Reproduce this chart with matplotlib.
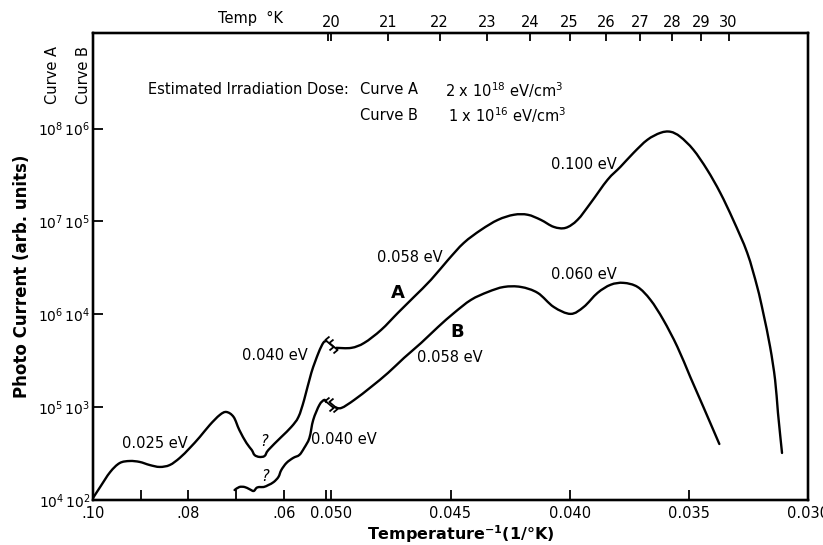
import numpy as np
import matplotlib
matplotlib.use('Agg')
import matplotlib.pyplot as plt
from matplotlib.path import Path
from matplotlib.patches import PathPatch
from matplotlib.ticker import FixedLocator, NullLocator

plt.rcParams['font.family'] = 'DejaVu Sans'
plt.rcParams['mathtext.default'] = 'regular'
plt.rcParams['axes.linewidth'] = 1.6

# Curve A (2 x 10^18 eV/cm^3), photo current in its own units, split at the break (1/T = 0.050)
a_low_x = [0.1000, 0.0985, 0.0964, 0.0944, 0.0923, 0.0902, 0.0881, 0.0860, 0.0839, 0.0818,
           0.0797, 0.0776, 0.0755, 0.0734, 0.0720, 0.0705, 0.0693, 0.0678, 0.0667, 0.0661,
           0.0651, 0.0640, 0.0632, 0.0605, 0.0584, 0.0569, 0.0557, 0.0542, 0.0527, 0.0517, 0.0511]
a_low_y = [1.05e4, 1.38e4, 2.0e4, 2.5e4, 2.63e4, 2.57e4, 2.38e4, 2.27e4, 2.38e4, 2.84e4,
           3.63e4, 4.77e4, 6.43e4, 8.24e4, 8.87e4, 7.84e4, 5.67e4, 4.11e4, 3.46e4, 3.05e4,
           2.91e4, 2.98e4, 3.46e4, 4.77e4, 6.12e4, 7.84e4, 1.20e5, 2.34e5, 3.84e5, 4.92e5, 5.16e5]
a_high_x = [0.04979, 0.04916, 0.04862, 0.04791, 0.04720, 0.04653, 0.04582, 0.04510, 0.04444,
            0.04372, 0.04301, 0.04234, 0.04176, 0.04121, 0.04067, 0.04017, 0.03967, 0.03912,
            0.03841, 0.03787, 0.03732, 0.03674, 0.03619, 0.03577, 0.03536, 0.03481, 0.03423,
            0.03368, 0.03314, 0.03255, 0.03213, 0.03188, 0.03159, 0.03138, 0.03126, 0.03109]
a_high_y = [4.35e5, 4.35e5, 4.92e5, 6.79e5, 1.04e6, 1.54e6, 2.35e6, 3.86e6, 5.88e6,
            8.11e6, 1.04e7, 1.18e7, 1.18e7, 1.04e7, 8.74e6, 8.53e6, 1.04e7, 1.58e7,
            2.81e7, 3.87e7, 5.48e7, 7.57e7, 9.0e7, 9.24e7, 8.17e7, 5.92e7, 3.6e7,
            2.03e7, 1.04e7, 4.59e6, 1.97e6, 1.04e6, 4.46e5, 1.96e5, 8.67e4, 3.21e4]

# Curve B (1 x 10^16 eV/cm^3)
b_low_x = [0.0703, 0.0693, 0.0682, 0.0672, 0.0663, 0.0657, 0.0651, 0.0642, 0.0632, 0.0621,
           0.0611, 0.0605, 0.0594, 0.0580, 0.0567, 0.0557, 0.0546, 0.0538, 0.0525, 0.0515, 0.0511]
b_low_y = [128, 138, 138, 131, 125, 135, 138, 138, 145, 156,
           177, 210, 251, 284, 306, 363, 466, 728, 1057, 1196, 1137]
b_high_x = [0.04987, 0.04958, 0.04904, 0.04833, 0.04762, 0.04695, 0.04623, 0.04552, 0.04485,
            0.04414, 0.04343, 0.04276, 0.04205, 0.04134, 0.04067, 0.03996, 0.03941, 0.03883,
            0.03828, 0.03774, 0.03715, 0.03661, 0.03607, 0.03548, 0.03494, 0.03439, 0.03372]
b_high_y = [1004, 980, 1196, 1652, 2340, 3392, 4920, 7313, 1.035e4,
            1.43e4, 1.74e4, 1.97e4, 1.97e4, 1.70e4, 1.20e4, 1.01e4, 1.20e4, 1.70e4,
            2.08e4, 2.18e4, 1.97e4, 1.43e4, 8710, 4456, 2115, 1005, 401]

bottom_ticks = [0.10, 0.09, 0.08, 0.07, 0.06, 0.0511, 0.050, 0.045, 0.040, 0.035, 0.030]
bottom_labels = ['.10', '', '.08', '', '.06', '', '0.050', '0.045', '0.040', '0.035', '0.030']
temps = [20, 21, 22, 23, 24, 25, 26, 27, 28, 29, 30]
decades_b = [2, 3, 4, 5, 6]


# 1/T axis: 0.10-0.05 squeezed 5x, 0.05-0.03 at full scale
def fwd(x):
    x = np.asarray(x, dtype=float)
    return np.where(x > 0.05, 0.05 + (x - 0.05) / 5.0, x)


def inv(u):
    u = np.asarray(u, dtype=float)
    return np.where(u > 0.05, 0.05 + (u - 0.05) * 5.0, u)


def smooth_curve(ax, xs, ys, **kw):
    # Catmull-Rom through the points, worked out in scale space (u, log y)
    u = fwd(xs)
    v = np.log10(ys)
    p = np.column_stack([u, v])
    ext = np.vstack([p[0], p, p[-1]])
    verts = [p[0]]
    codes = [Path.MOVETO]
    for i in range(len(p) - 1):
        c1 = ext[i + 1] + (ext[i + 2] - ext[i]) / 6.0
        c2 = ext[i + 2] - (ext[i + 3] - ext[i + 1]) / 6.0
        verts += [c1, c2, p[i + 1]]
        codes += [Path.CURVE4] * 3
    verts = np.array(verts)
    data = np.column_stack([inv(verts[:, 0]), 10.0 ** verts[:, 1]])
    ax.add_patch(PathPatch(Path(data, codes), fill=False, **kw))


fig = plt.figure(figsize=(8.23, 5.45), dpi=100)
ax = fig.add_axes([93 / 823, 1 - 500 / 545, 715 / 823, 467 / 545])
ax.set_xscale('function', functions=(fwd, inv))
ax.set_yscale('log')
ax.set_xlim(0.10, 0.030)
ax.set_ylim(1e2, 1.07e7)

axA = ax.twinx()
axA.set_yscale('log')
axA.set_ylim(1e4, 1.07e9)
axA.tick_params(axis='y', which='both', right=False, labelright=False)

style = dict(edgecolor='black', lw=1.7, capstyle='round', joinstyle='round')
smooth_curve(axA, a_low_x, a_low_y, **style)
smooth_curve(axA, a_high_x, a_high_y, **style)
smooth_curve(ax, b_low_x, b_low_y, **style)
smooth_curve(ax, b_high_x, b_high_y, **style)

# little squiggles marking the break on each curve
squig = Path([(0.0, -0.5), (0.3, -0.25), (0.0, 0.0), (-0.3, 0.25), (0.0, 0.5)])
axA.plot([0.0504, 0.04995], [a_low_y[-1] * 0.95, a_high_y[0] * 1.05], ls='none',
         marker=squig, ms=10, mew=1.3, mfc='none', mec='black')
ax.plot([0.0504, 0.04995], [b_low_y[-1] * 0.95, b_high_y[0] * 1.05], ls='none',
        marker=squig, ms=10, mew=1.3, mfc='none', mec='black')

# bottom axis
ax.xaxis.set_major_locator(FixedLocator(bottom_ticks))
ax.set_xticklabels(bottom_labels)
ax.xaxis.set_minor_locator(NullLocator())
ax.tick_params(axis='x', direction='in', length=7, width=1.3, pad=4, labelsize=10.5, top=False)

# left axis, two label columns (curve A / curve B)
ax.yaxis.set_major_locator(FixedLocator([10.0 ** d for d in decades_b]))
ax.yaxis.set_minor_locator(NullLocator())
ax.set_yticklabels([r'$10^{%d}\,10^{%d}$' % (d + 2, d) for d in decades_b])
ax.tick_params(axis='y', direction='in', length=7, width=1.3, pad=2, labelsize=10)

# top axis: temperature in K
axT = ax.twiny()
axT.set_xscale('function', functions=(fwd, inv))
axT.set_xlim(0.10, 0.030)
axT.xaxis.set_major_locator(FixedLocator([1.0 / t for t in temps] + [0.0506]))
axT.set_xticklabels([str(t) for t in temps] + [''])
axT.xaxis.set_minor_locator(NullLocator())
axT.tick_params(axis='x', direction='in', length=6, width=1.3, pad=2, labelsize=10.5)

fs = 10.5
fig.text(250 / 823, 1 - 18 / 545, 'Temp  °K', ha='center', va='center', fontsize=fs)
fig.text(53 / 823, 1 - 75 / 545, 'Curve A', rotation=90, ha='center', va='center', fontsize=fs)
fig.text(83 / 823, 1 - 75 / 545, 'Curve B', rotation=90, ha='center', va='center', fontsize=fs)
fig.text(22 / 823, 1 - 276 / 545, 'Photo Current (arb. units)', rotation=90,
         ha='center', va='center', fontsize=12, fontweight='bold')
fig.text(461 / 823, 1 - 534 / 545, r'Temperature$^{\mathbf{-1}}$(1/°K)',
         ha='center', va='center', fontsize=11.5, fontweight='bold')

fig.text(148 / 823, 1 - 90 / 545, 'Estimated Irradiation Dose:', va='center', fontsize=fs)
fig.text(360 / 823, 1 - 90 / 545, 'Curve A', va='center', fontsize=fs)
fig.text(445 / 823, 1 - 90 / 545, r'2 x 10$^{18}$ eV/cm$^{3}$', va='center', fontsize=fs)
fig.text(360 / 823, 1 - 115 / 545, 'Curve B', va='center', fontsize=fs)
fig.text(448 / 823, 1 - 115 / 545, r'1 x 10$^{16}$ eV/cm$^{3}$', va='center', fontsize=fs)

# activation energies along the curves (positions in curve-B units)
ax.text(0.0408, 4.07e5, '0.100 eV', va='center', fontsize=fs)
ax.text(0.0481, 4.06e4, '0.058 eV', va='center', fontsize=fs)
ax.text(0.0472, 1.70e4, 'A', ha='center', va='center', fontsize=13, fontweight='bold')
ax.text(0.0447, 6.46e3, 'B', ha='center', va='center', fontsize=13, fontweight='bold')
ax.text(0.0464, 3.39e3, '0.058 eV', va='center', fontsize=fs)
ax.text(0.0408, 2.66e4, '0.060 eV', va='center', fontsize=fs)
ax.text(0.0688, 3.57e3, '0.040 eV', va='center', fontsize=fs)
ax.text(0.0542, 444, '0.040 eV', va='center', fontsize=fs)
ax.text(0.0939, 411, '0.025 eV', va='center', fontsize=fs)
ax.text(0.0642, 422, '?', ha='center', va='center', fontsize=fs, style='italic')
ax.text(0.0640, 181, '?', ha='center', va='center', fontsize=fs, style='italic')

fig.savefig('out.png', dpi=100)
